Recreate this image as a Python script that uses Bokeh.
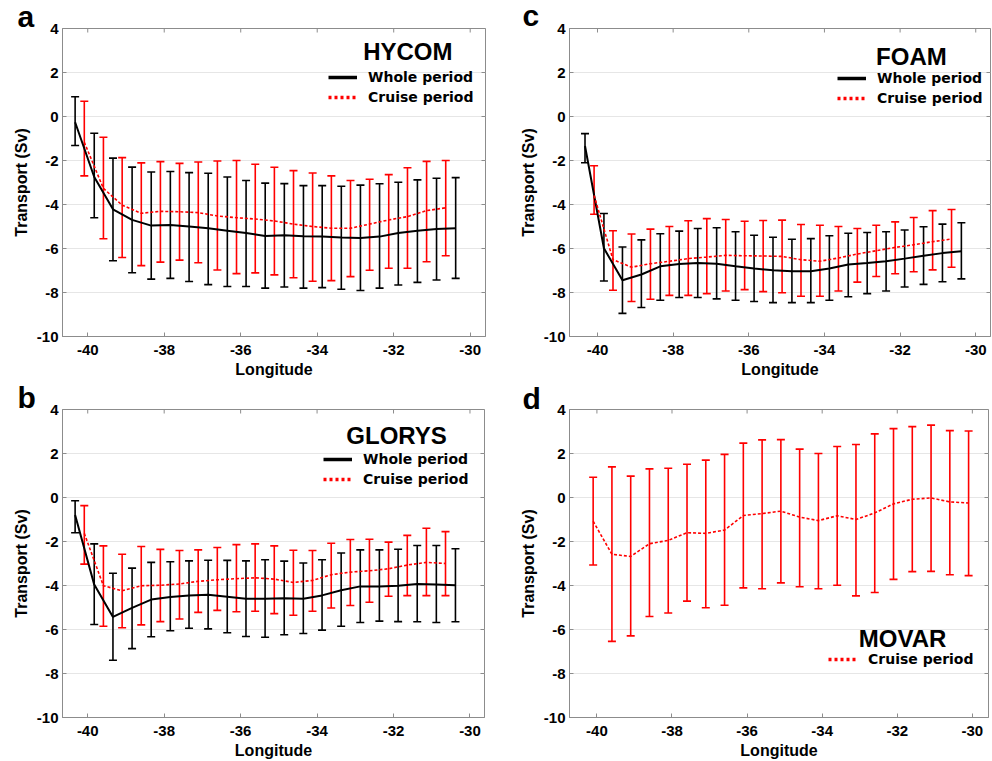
import math
from bokeh.plotting import figure
from bokeh.models import (Range1d, FixedTicker, Whisker, TeeHead,
                          ColumnDataSource, Label, Legend, LegendItem)
from bokeh.layouts import column, row
from bokeh.embed import file_html
from bokeh.resources import INLINE

# ---------------- data ----------------
x_ticks = [-40, -38, -36, -34, -32, -30]
y_ticks = [-10, -8, -6, -4, -2, 0, 2, 4]

lon_whole = [-40.33, -39.83, -39.34, -38.84, -38.34, -37.84, -37.35, -36.85, -36.35, -35.86,
             -35.36, -34.86, -34.36, -33.87, -33.37, -32.87, -32.37, -31.88, -31.38, -30.88, -30.38]
lon_cruise = [-40.09, -39.59, -39.10, -38.60, -38.10, -37.60, -37.11, -36.61, -36.11, -35.62,
              -35.12, -34.62, -34.12, -33.63, -33.13, -32.63, -32.13, -31.64, -31.14, -30.64]
lon_movar = [-40.1, -39.6, -39.1, -38.6, -38.1, -37.6, -37.1, -36.6, -36.1, -35.6, -35.1,
             -34.6, -34.1, -33.6, -33.1, -32.6, -32.1, -31.6, -31.1, -30.6, -30.1]

# (a) HYCOM
hycom_whole = [-0.26, -2.75, -4.22, -4.70, -4.96, -4.93, -5.00, -5.08, -5.19, -5.30, -5.43,
               -5.40, -5.44, -5.46, -5.50, -5.52, -5.46, -5.30, -5.19, -5.11, -5.08]
hycom_whole_up = [0.90, -0.76, -1.89, -2.30, -2.52, -2.50, -2.55, -2.58, -2.75, -2.91, -3.03,
                  -3.05, -3.14, -3.14, -3.17, -3.12, -3.06, -2.99, -2.88, -2.81, -2.78]
hycom_whole_lo = [-1.32, -4.60, -6.56, -7.10, -7.39, -7.36, -7.50, -7.64, -7.73, -7.73, -7.80,
                  -7.75, -7.80, -7.78, -7.85, -7.91, -7.80, -7.66, -7.54, -7.43, -7.36]
hycom_cruise = [-1.17, -3.27, -4.03, -4.40, -4.31, -4.33, -4.37, -4.52, -4.60, -4.66,
                -4.75, -4.89, -5.00, -5.08, -5.08, -4.89, -4.70, -4.55, -4.28, -4.15]
hycom_cruise_up = [0.69, -0.94, -1.87, -2.11, -2.05, -2.13, -2.07, -2.02, -2.00, -2.17,
                   -2.31, -2.46, -2.57, -2.70, -2.91, -2.85, -2.64, -2.33, -2.04, -2.00]
hycom_cruise_lo = [-2.70, -5.56, -6.41, -6.78, -6.62, -6.53, -6.65, -6.98, -7.14, -7.11,
                   -7.20, -7.33, -7.49, -7.46, -7.28, -6.99, -6.90, -6.90, -6.60, -6.33]

# (c) FOAM
foam_whole = [-1.34, -5.99, -7.44, -7.18, -6.81, -6.70, -6.66, -6.69, -6.81, -6.91, -6.99,
              -7.03, -7.03, -6.91, -6.73, -6.66, -6.58, -6.46, -6.33, -6.21, -6.13]
foam_whole_up = [-0.78, -4.41, -5.93, -5.61, -5.33, -5.21, -5.09, -5.06, -5.24, -5.40, -5.49,
                 -5.58, -5.55, -5.42, -5.31, -5.27, -5.24, -5.16, -5.01, -4.89, -4.83]
foam_whole_lo = [-2.10, -7.48, -8.95, -8.68, -8.35, -8.23, -8.23, -8.29, -8.35, -8.41, -8.46,
                 -8.46, -8.46, -8.35, -8.19, -8.05, -7.93, -7.75, -7.63, -7.51, -7.38]
foam_cruise = [-3.59, -6.51, -6.85, -6.69, -6.58, -6.46, -6.39, -6.31, -6.33, -6.34,
               -6.36, -6.51, -6.58, -6.43, -6.25, -6.10, -5.95, -5.83, -5.69, -5.57]
foam_cruise_up = [-2.24, -5.19, -5.34, -5.12, -5.00, -4.74, -4.64, -4.68, -4.76, -4.73,
                  -4.71, -4.91, -4.94, -5.00, -5.09, -4.94, -4.79, -4.59, -4.28, -4.23]
foam_cruise_lo = [-4.44, -7.90, -8.41, -8.31, -8.13, -8.13, -8.05, -7.93, -7.87, -7.96,
                  -8.01, -8.17, -8.17, -7.93, -7.53, -7.27, -7.15, -7.06, -6.97, -6.85]

# (b) GLORYS
glorys_whole = [-0.80, -3.96, -5.43, -5.02, -4.64, -4.52, -4.45, -4.42, -4.51, -4.60, -4.60,
                -4.58, -4.60, -4.45, -4.22, -4.04, -4.04, -4.01, -3.93, -3.95, -3.99]
glorys_whole_up = [-0.15, -2.11, -3.44, -3.21, -2.95, -2.92, -2.88, -2.85, -2.86, -2.88, -2.83,
                   -2.89, -2.98, -2.83, -2.52, -2.38, -2.38, -2.35, -2.18, -2.18, -2.33]
glorys_whole_lo = [-1.60, -5.77, -7.40, -6.87, -6.33, -6.06, -5.94, -5.97, -6.15, -6.32, -6.35,
                   -6.24, -6.18, -6.03, -5.85, -5.68, -5.62, -5.64, -5.65, -5.68, -5.65]
glorys_cruise = [-1.63, -4.01, -4.24, -4.01, -3.99, -3.93, -3.81, -3.74, -3.69, -3.65,
                 -3.71, -3.86, -3.77, -3.51, -3.39, -3.33, -3.24, -3.07, -2.95, -3.00]
glorys_cruise_up = [-0.37, -2.20, -2.58, -2.23, -2.36, -2.41, -2.38, -2.27, -2.14, -2.11,
                    -2.20, -2.40, -2.41, -2.08, -1.91, -1.90, -2.03, -1.72, -1.40, -1.55]
glorys_cruise_lo = [-3.03, -5.85, -5.92, -5.79, -5.64, -5.52, -5.22, -5.13, -5.19, -5.17,
                    -5.28, -5.35, -5.17, -5.02, -4.91, -4.76, -4.49, -4.46, -4.46, -4.46]

# (d) MOVAR
movar_cruise = [-1.08, -2.58, -2.68, -2.10, -1.95, -1.60, -1.63, -1.48, -0.82, -0.73, -0.62,
                -0.89, -1.05, -0.83, -1.00, -0.70, -0.29, -0.08, -0.02, -0.20, -0.25]
movar_cruise_up = [0.92, 1.39, 0.97, 1.30, 1.33, 1.51, 1.70, 1.96, 2.47, 2.62, 2.63,
                   2.20, 2.00, 2.32, 2.41, 2.89, 3.13, 3.22, 3.29, 3.04, 3.02]
movar_cruise_lo = [-3.07, -6.54, -6.29, -5.41, -5.25, -4.71, -5.01, -4.90, -4.11, -4.15, -3.88,
                   -4.06, -4.15, -3.99, -4.47, -4.32, -3.72, -3.37, -3.36, -3.51, -3.55]

# ---------------- styling ----------------
GRAY = "#8c8c8c"
RED = "#ff0000"
TICK_FONT = "Liberation Sans"
LEG_FONT = "DejaVu Sans"
NAN = float("nan")


def make_panel(letter, model, xr, series, width, height, borders,
               letter_offset, letter_standoff, title_xy, legend_loc):
    bl, br, bt, bb = borders
    p = figure(width=width, height=height, x_range=Range1d(*xr), y_range=Range1d(-10, 4),
               output_backend="svg", toolbar_location=None,
               min_border_left=bl, min_border_right=br, min_border_top=bt,
               min_border_bottom=bb, background_fill_color="white",
               border_fill_color="white")
    p.outline_line_color = GRAY
    p.outline_line_width = 1
    p.xgrid.visible = False
    p.ygrid.ticker = FixedTicker(ticks=y_ticks)
    p.ygrid.grid_line_color = "#e6e6e6"
    p.ygrid.grid_line_width = 1

    for ax in (p.xaxis[0], p.yaxis[0]):
        ax.axis_line_color = GRAY
        ax.major_tick_line_color = GRAY
        ax.major_tick_in = 4
        ax.major_tick_out = 0
        ax.minor_tick_line_color = None
        ax.major_label_text_font = TICK_FONT
        ax.major_label_text_font_style = "bold"
        ax.major_label_text_font_size = "15px"
        ax.major_label_text_color = "black"
        ax.axis_label_text_font = TICK_FONT
        ax.axis_label_text_font_style = "bold"
        ax.axis_label_text_font_size = "16px"
        ax.axis_label_text_color = "black"
    p.xaxis.ticker = FixedTicker(ticks=x_ticks)
    p.yaxis.ticker = FixedTicker(ticks=y_ticks)
    p.xaxis.major_label_overrides = {t: str(t) for t in x_ticks}
    p.yaxis.major_label_overrides = {t: str(t) for t in y_ticks}
    p.xaxis.axis_label = "Longitude"
    p.yaxis.axis_label = "Transport (Sv)"
    p.xaxis.major_label_standoff = 8
    p.xaxis.axis_label_standoff = 3
    p.yaxis.major_label_standoff = 4
    p.yaxis.axis_label_standoff = 4

    # inward ticks on the top and right frame edges
    p.scatter(x=x_ticks, y=[y_ticks[-1]] * len(x_ticks), marker="dash", angle=math.pi / 2,
              size=8, line_color=GRAY, line_width=1)
    p.scatter(x=[xr[1]] * len(y_ticks), y=y_ticks, marker="dash",
              size=8, line_color=GRAY, line_width=1)

    items = []
    for (xs, mean, up, lo, color, dash, lw, label) in series:
        src = ColumnDataSource(dict(x=xs, m=mean, up=up, lo=lo))
        w = Whisker(source=src, base="x", upper="up", lower="lo", dimension="height",
                    line_color=color, line_width=1.6,
                    upper_head=TeeHead(size=8, line_color=color, line_width=1.6),
                    lower_head=TeeHead(size=8, line_color=color, line_width=1.6))
        p.add_layout(w)
        p.line("x", "m", source=src, line_color=color, line_width=lw, line_dash=dash)
        dummy = p.line([NAN], [NAN], line_color=color, line_width=3.5,
                       line_dash="solid" if dash == "solid" else "3 3")
        items.append(LegendItem(label=label, renderers=[dummy]))

    legend = Legend(items=items, location=legend_loc, margin=0, padding=0, spacing=0,
                    glyph_width=29, glyph_height=20, label_height=20, label_standoff=11,
                    label_text_font=LEG_FONT, label_text_font_style="bold",
                    label_text_font_size="14px", label_text_color="black",
                    border_line_alpha=0, background_fill_alpha=0)
    p.add_layout(legend)

    p.add_layout(Label(x=title_xy[0], y=title_xy[1], text=model, text_font=TICK_FONT,
                       text_font_style="bold", text_font_size="24px", text_align="center",
                       text_baseline="middle", text_color="black"))

    # panel letter as the figure title, pulled down next to the frame
    p.title.text = letter
    p.title.align = "left"
    p.title.offset = letter_offset
    p.title.standoff = letter_standoff
    p.title.text_font = TICK_FONT
    p.title.text_font_style = "bold"
    p.title.text_font_size = "30px"
    p.title.text_color = "black"
    return p


pa = make_panel("a", "HYCOM", (-40.66, -29.6),
                [(lon_whole, hycom_whole, hycom_whole_up, hycom_whole_lo, "black", "solid", 2, "Whole period"),
                 (lon_cruise, hycom_cruise, hycom_cruise_up, hycom_cruise_lo, RED, "3 2", 1.6, "Cruise period")],
                496, 380, (62, 11, 27, 44), -45, -8, (-31.63, 2.96), (266, 229))
pc = make_panel("c", "FOAM", (-40.74, -29.61),
                [(lon_whole, foam_whole, foam_whole_up, foam_whole_lo, "black", "solid", 2, "Whole period"),
                 (lon_cruise, foam_cruise, foam_cruise_up, foam_cruise_lo, RED, "3 2", 1.6, "Cruise period")],
                496, 380, (73, 2, 28, 44), -47, -7, (-31.70, 2.75), (268, 228))
pb = make_panel("b", "GLORYS", (-40.66, -29.62),
                [(lon_whole, glorys_whole, glorys_whole_up, glorys_whole_lo, "black", "solid", 2, "Whole period"),
                 (lon_cruise, glorys_cruise, glorys_cruise_up, glorys_cruise_lo, RED, "3 2", 1.6, "Cruise period")],
                496, 381, (62, 12, 29, 44), -45, -8, (-31.92, 2.83), (261, 228))
pd_ = make_panel("d", "MOVAR", (-40.73, -29.57),
                 [(lon_movar, movar_cruise, movar_cruise_up, movar_cruise_lo, RED, "3 2", 1.6, "Cruise period")],
                 496, 381, (73, 4, 27, 44), -47, -10, (-31.86, -6.41), (259, 48))

layout = column(row(pa, pc), row(pb, pd_))
open("out.html", "w").write(file_html(layout, INLINE))
